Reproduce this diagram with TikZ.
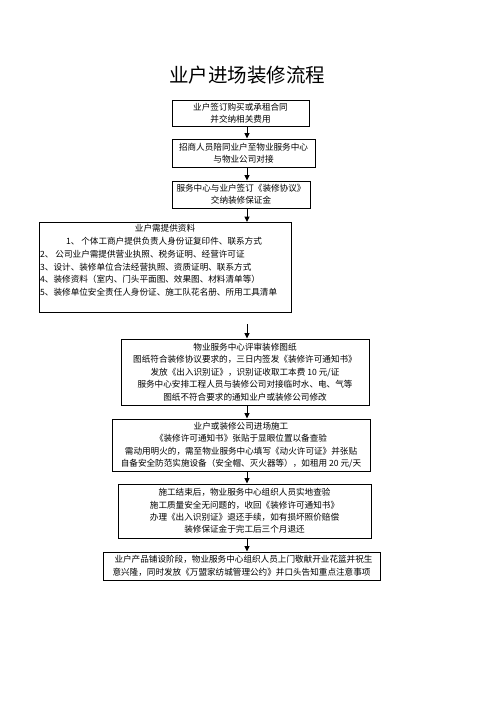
\documentclass[tikz,border=0pt]{standalone}
\usepackage{fontspec}
\setmainfont{Noto Sans CJK SC}
\usetikzlibrary{arrows.meta}
\newcommand\boxfont{\fontsize{8.6}{12.4}\selectfont}
\begin{document}
\begin{tikzpicture}[x=1pt,y=-1pt,
  box/.style={draw, line width=0.9pt, inner sep=0pt, align=center, font=\boxfont},
  txt/.style={inner sep=0pt, font=\boxfont},
  arr/.style={-{Triangle[width=5pt,length=5.5pt]}, line width=1pt}]
\fill[white] (0,0) rectangle (496,702);
\useasboundingbox (0,0) rectangle (496,702);
\coordinate (ax) at (247,0);
\node[font=\fontsize{19.5}{22}\selectfont, inner sep=0pt] (title) at (247,75) {业户进场装修流程};
\node[box, minimum width=137pt, minimum height=26pt] (b1) at (240.5,113) {业户签订购买或承租合同\\并交纳相关费用};
\node[box, minimum width=143pt, minimum height=28pt] (b2) at (243.5,153) {招商人员陪同业户至物业服务中心\\与物业公司对接};
\node[box, minimum width=138pt, minimum height=27pt] (b3) at (241,194.5) {服务中心与业户签订《装修协议》\\交纳装修保证金};
\node[box, minimum width=252pt, minimum height=89.5pt] (b4) at (165,267.25) {};
\node[txt] (t40) at (165,228.5) {业户需提供资料};
\node[txt] (t41) at (164,241.3) {1、 个体工商户提供负责人身份证复印件、联系方式};
\node[txt, anchor=west] (t42) at (40,254.1) {2、 公司业户需提供营业执照、税务证明、经营许可证};
\node[txt, anchor=west] (t43) at (40,266.9) {3、设计、装修单位合法经营执照、资质证明、联系方式};
\node[txt, anchor=west] (t44) at (40,279.7) {4、装修资料（室内、门头平面图、效果图、材料清单等）};
\node[txt, anchor=west] (t45) at (40,292.5) {5、装修单位安全责任人身份证、施工队花名册、所用工具清单};
\node[box, minimum width=248pt, minimum height=66pt] (b5) at (245,372) {物业服务中心评审装修图纸\\图纸符合装修协议要求的，三日内签发《装修许可通知书》\\发放《出入识别证》，识别证收取工本费 10 元/证\\服务中心安排工程人员与装修公司对接临时水、电、气等\\图纸不符合要求的通知业户或装修公司修改};
\node[box, minimum width=258pt, minimum height=52pt] (b6) at (241,445) {业户或装修公司进场施工\\《装修许可通知书》张贴于显眼位置以备查验\\需动用明火的，需至物业服务中心填写《动火许可证》并张贴\\自备安全防范实施设备（安全帽、灭火器等），如租用 20 元/天};
\node[box, minimum width=253pt, minimum height=54pt] (b7) at (244.5,511) {施工结束后，物业服务中心组织人员实地查验\\施工质量安全无问题的，收回《装修许可通知书》\\办理《出入识别证》退还手续，如有损坏照价赔偿\\装修保证金于完工后三个月退还};
\node[box, minimum width=277pt, minimum height=28pt] (b8) at (241.5,566) {\hspace*{4pt}业户产品铺设阶段，物业服务中心组织人员上门敬献开业花篮并祝生\\意兴隆，同时发放《万盟家纺城管理公约》并口头告知重点注意事项};
\coordinate (s5) at (247,324);
\draw[arr] (b1.south -| ax) -- (b2.north -| ax);
\draw[arr] (b2.south -| ax) -- (b3.north -| ax);
\draw[arr] (b3.south -| ax) -- (b4.north -| ax);
\draw[arr] (s5) -- (b5.north -| ax);
\draw[arr] (b5.south -| ax) -- (b6.north -| ax);
\draw[arr] (b6.south -| ax) -- (b7.north -| ax);
\draw[arr] (b7.south -| ax) -- (b8.north -| ax);
\end{tikzpicture}
\end{document}
